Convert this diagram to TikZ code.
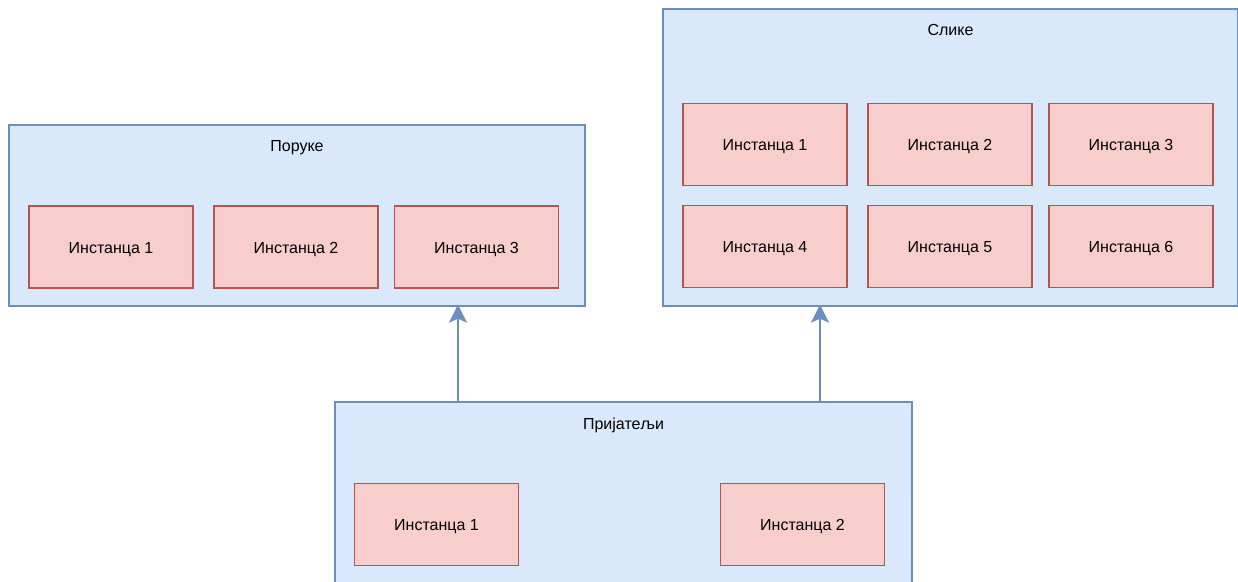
\documentclass[tikz,border=0pt]{standalone}
\usepackage{fontspec}
\setmainfont{Liberation Sans}
\usetikzlibrary{arrows.meta}
\definecolor{grpfill}{HTML}{DAE8FC}
\definecolor{grpline}{HTML}{6C8EBF}
\definecolor{insfill}{HTML}{F8CECC}
\definecolor{insline}{HTML}{B85450}
\tikzset{
  group/.style={draw=grpline, fill=grpfill, line width=1.3pt, rectangle, inner sep=0pt},
  inst/.style={draw=insline, fill=insfill, line width=1.3pt, rectangle, inner sep=0pt,
    minimum width=164pt, minimum height=82pt, text height=12pt, text depth=0pt,
    font=\fontsize{16}{19}\selectfont},
  title/.style={font=\fontsize{16}{19}\selectfont, inner sep=0pt, anchor=base},
  arr/.style={draw=grpline, line width=2pt, -{Stealth[length=18pt,width=18pt,inset=4pt]}}
}
\begin{document}
\begin{tikzpicture}[x=1pt,y=-1pt]
  \useasboundingbox (0,0) rectangle (1238,581);
  \begin{scope}
    \clip (0,0) rectangle (1238,581);

    % Поруке
    \node[group, minimum width=576pt, minimum height=181pt] (poruke) at (297,215.5) {};
    \node[title] (tporuke) at (297,151) {Поруке};
    \node[inst] (p1) at (111,247) {Инстанца 1};
    \node[inst] (p2) at (296,247) {Инстанца 2};
    \node[inst] (p3) at (476.5,247) {Инстанца 3};

    % Слике
    \node[group, minimum width=575pt, minimum height=297pt] (slike) at (950.5,157.5) {};
    \node[title] (tslike) at (950.5,35) {Слике};
    \node[inst] (s1) at (765,144.5) {Инстанца 1};
    \node[inst] (s2) at (950,144.5) {Инстанца 2};
    \node[inst] (s3) at (1131,144.5) {Инстанца 3};
    \node[inst] (s4) at (765,246.5) {Инстанца 4};
    \node[inst] (s5) at (950,246.5) {Инстанца 5};
    \node[inst] (s6) at (1131,246.5) {Инстанца 6};

    % Пријатељи
    \node[group, minimum width=577pt, minimum height=220pt] (prij) at (623.5,512) {};
    \node[title] (tprij) at (623.5,429) {Пријатељи};
    \node[inst] (f1) at (436.5,524.5) {Инстанца 1};
    \node[inst] (f2) at (802.5,524.5) {Инстанца 2};

    % connectors
    \coordinate (ax1) at (458,0);
    \coordinate (ax2) at (820,0);
    \draw[arr] (prij.north -| ax1) -- ([yshift=2pt]poruke.south -| ax1);
    \draw[arr] (prij.north -| ax2) -- ([yshift=2pt]slike.south -| ax2);
  \end{scope}
\end{tikzpicture}
\end{document}
